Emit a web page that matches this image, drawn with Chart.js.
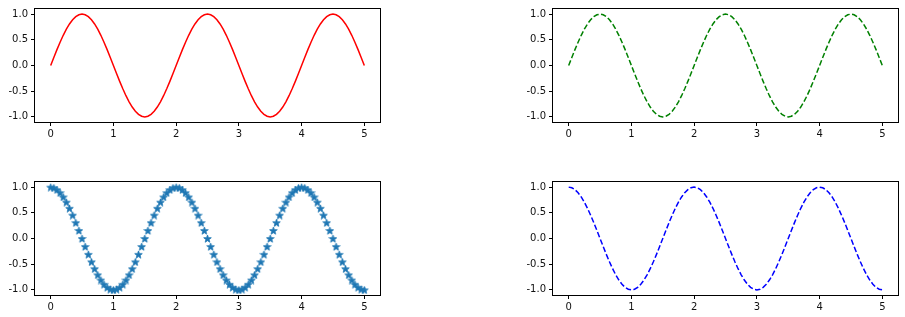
<!DOCTYPE html>
<html>
<head>
<meta charset="utf-8">
<script src="https://cdn.jsdelivr.net/npm/chart.js@4.4.0/dist/chart.umd.min.js"></script>
<style>
  body { margin: 0; background: #fff; }
  #fig { position: relative; width: 905px; height: 317px; overflow: hidden; }
  .ax { position: absolute; }
</style>
</head>
<body>
<div id="fig">
  <div class="ax" id="tl"><canvas id="c1"></canvas></div>
  <div class="ax" id="tr"><canvas id="c2"></canvas></div>
  <div class="ax" id="bl"><canvas id="c3"></canvas></div>
  <div class="ax" id="br"><canvas id="c4"></canvas></div>
</div>
<script>
// data
const xVals = [
  0, 0.05, 0.1, 0.15, 0.2, 0.25, 0.3, 0.35, 0.4, 0.45,
  0.5, 0.55, 0.6, 0.65, 0.7, 0.75, 0.8, 0.85, 0.9, 0.95,
  1, 1.05, 1.1, 1.15, 1.2, 1.25, 1.3, 1.35, 1.4, 1.45,
  1.5, 1.55, 1.6, 1.65, 1.7, 1.75, 1.8, 1.85, 1.9, 1.95,
  2, 2.05, 2.1, 2.15, 2.2, 2.25, 2.3, 2.35, 2.4, 2.45,
  2.5, 2.55, 2.6, 2.65, 2.7, 2.75, 2.8, 2.85, 2.9, 2.95,
  3, 3.05, 3.1, 3.15, 3.2, 3.25, 3.3, 3.35, 3.4, 3.45,
  3.5, 3.55, 3.6, 3.65, 3.7, 3.75, 3.8, 3.85, 3.9, 3.95,
  4, 4.05, 4.1, 4.15, 4.2, 4.25, 4.3, 4.35, 4.4, 4.45,
  4.5, 4.55, 4.6, 4.65, 4.7, 4.75, 4.8, 4.85, 4.9, 4.95,
  5
];

const sinVals = [
  0, 0.156, 0.309, 0.454, 0.588, 0.707, 0.809, 0.891, 0.951, 0.988,
  1, 0.988, 0.951, 0.891, 0.809, 0.707, 0.588, 0.454, 0.309, 0.156,
  0, -0.156, -0.309, -0.454, -0.588, -0.707, -0.809, -0.891, -0.951, -0.988,
  -1, -0.988, -0.951, -0.891, -0.809, -0.707, -0.588, -0.454, -0.309, -0.156,
  0, 0.156, 0.309, 0.454, 0.588, 0.707, 0.809, 0.891, 0.951, 0.988,
  1, 0.988, 0.951, 0.891, 0.809, 0.707, 0.588, 0.454, 0.309, 0.156,
  0, -0.156, -0.309, -0.454, -0.588, -0.707, -0.809, -0.891, -0.951, -0.988,
  -1, -0.988, -0.951, -0.891, -0.809, -0.707, -0.588, -0.454, -0.309, -0.156,
  0, 0.156, 0.309, 0.454, 0.588, 0.707, 0.809, 0.891, 0.951, 0.988,
  1, 0.988, 0.951, 0.891, 0.809, 0.707, 0.588, 0.454, 0.309, 0.156,
  0
];

const cosVals = [
  1, 0.988, 0.951, 0.891, 0.809, 0.707, 0.588, 0.454, 0.309, 0.156,
  0, -0.156, -0.309, -0.454, -0.588, -0.707, -0.809, -0.891, -0.951, -0.988,
  -1, -0.988, -0.951, -0.891, -0.809, -0.707, -0.588, -0.454, -0.309, -0.156,
  0, 0.156, 0.309, 0.454, 0.588, 0.707, 0.809, 0.891, 0.951, 0.988,
  1, 0.988, 0.951, 0.891, 0.809, 0.707, 0.588, 0.454, 0.309, 0.156,
  0, -0.156, -0.309, -0.454, -0.588, -0.707, -0.809, -0.891, -0.951, -0.988,
  -1, -0.988, -0.951, -0.891, -0.809, -0.707, -0.588, -0.454, -0.309, -0.156,
  0, 0.156, 0.309, 0.454, 0.588, 0.707, 0.809, 0.891, 0.951, 0.988,
  1, 0.988, 0.951, 0.891, 0.809, 0.707, 0.588, 0.454, 0.309, 0.156,
  0, -0.156, -0.309, -0.454, -0.588, -0.707, -0.809, -0.891, -0.951, -0.988,
  -1
];

const xTicks = [0, 1, 2, 3, 4, 5];
const yTicks = [-1.0, -0.5, 0.0, 0.5, 1.0];

// layout of the four axes boxes (left, top, right, bottom) in figure px
const boxes = {
  tl: [35, 7, 380, 122],
  tr: [553, 7, 898, 122],
  bl: [35, 180, 380, 295],
  br: [553, 180, 898, 295]
};
const Y_AXIS_W = 35, X_AXIS_H = 20, PAD_TOP = 7, PAD_RIGHT = 10;

Object.keys(boxes).forEach(id => {
  const [l, t, r, b] = boxes[id];
  const el = document.getElementById(id);
  el.style.left = (l - Y_AXIS_W) + 'px';
  el.style.top = (t - PAD_TOP) + 'px';
  el.style.width = (r - l + Y_AXIS_W + PAD_RIGHT) + 'px';
  el.style.height = (b - t + PAD_TOP + X_AXIS_H) + 'px';
});

// matplotlib-like star marker
function makeStar(size, color) {
  const c = document.createElement('canvas');
  c.width = size; c.height = size;
  const g = c.getContext('2d');
  const cx = size / 2, cy = size / 2 + 0.5, R = size / 2 - 0.5, r = R * 0.42;
  g.beginPath();
  for (let i = 0; i < 10; i++) {
    const a = -Math.PI / 2 + i * Math.PI / 5;
    const rad = i % 2 === 0 ? R : r;
    const px = cx + rad * Math.cos(a), py = cy + rad * Math.sin(a);
    if (i === 0) g.moveTo(px, py); else g.lineTo(px, py);
  }
  g.closePath();
  g.fillStyle = color;
  g.fill();
  g.strokeStyle = color;
  g.lineWidth = 0.8;
  g.lineJoin = 'round';
  g.stroke();
  return c;
}
const starImg = makeStar(9, '#1f77b4');

const frame = {
  id: 'frame',
  afterDraw(chart) {
    const { ctx, chartArea: a } = chart;
    ctx.save();
    ctx.strokeStyle = '#000';
    ctx.lineWidth = 1;
    ctx.strokeRect(Math.round(a.left) - 0.5, Math.round(a.top) - 0.5,
      Math.round(a.right - a.left) + 1, Math.round(a.bottom - a.top) + 1);
    ctx.restore();
  }
};

function pairs(ys) {
  return xVals.map((x, i) => ({ x: x, y: ys[i] }));
}

function makeChart(canvasId, dataset) {
  new Chart(document.getElementById(canvasId), {
    type: 'line',
    data: { datasets: [dataset] },
    plugins: [frame],
    options: {
      responsive: true,
      maintainAspectRatio: false,
      animation: false,
      layout: { padding: { top: PAD_TOP, right: PAD_RIGHT, left: 0, bottom: 0 } },
      plugins: { legend: { display: false }, tooltip: { enabled: false } },
      scales: {
        x: {
          type: 'linear',
          min: -0.25,
          max: 5.25,
          afterBuildTicks: s => { s.ticks = xTicks.map(v => ({ value: v })); },
          afterFit: s => { s.height = X_AXIS_H; },
          grid: { drawOnChartArea: false, drawTicks: true, tickLength: 4, color: '#000' },
          border: { display: false },
          ticks: {
            color: '#111', padding: 2, maxRotation: 0,
            font: { family: 'DejaVu Sans', size: 10 },
            callback: v => String(v)
          }
        },
        y: {
          min: -1.1,
          max: 1.1,
          afterBuildTicks: s => { s.ticks = yTicks.map(v => ({ value: v })); },
          afterFit: s => { s.width = Y_AXIS_W; },
          grid: { drawOnChartArea: false, drawTicks: true, tickLength: 4, color: '#000' },
          border: { display: false },
          ticks: {
            color: '#111', padding: 3,
            font: { family: 'DejaVu Sans', size: 10 },
            callback: v => (v < 0 ? '-' : '') + Math.abs(v).toFixed(1)
          }
        }
      }
    }
  });
}

makeChart('c1', {
  data: pairs(sinVals), borderColor: '#ff0000', borderWidth: 1.5,
  pointRadius: 0, tension: 0, fill: false
});
makeChart('c2', {
  data: pairs(sinVals), borderColor: '#008000', borderWidth: 1.5,
  borderDash: [5.5, 2.4], pointRadius: 0, tension: 0, fill: false
});
makeChart('c3', {
  data: pairs(cosVals), showLine: false, pointStyle: starImg,
  pointRadius: 4.5, borderColor: '#1f77b4', backgroundColor: '#1f77b4'
});
makeChart('c4', {
  data: pairs(cosVals), borderColor: '#0000ff', borderWidth: 1.5,
  borderDash: [5.5, 2.4], pointRadius: 0, tension: 0, fill: false
});
</script>
</body>
</html>
